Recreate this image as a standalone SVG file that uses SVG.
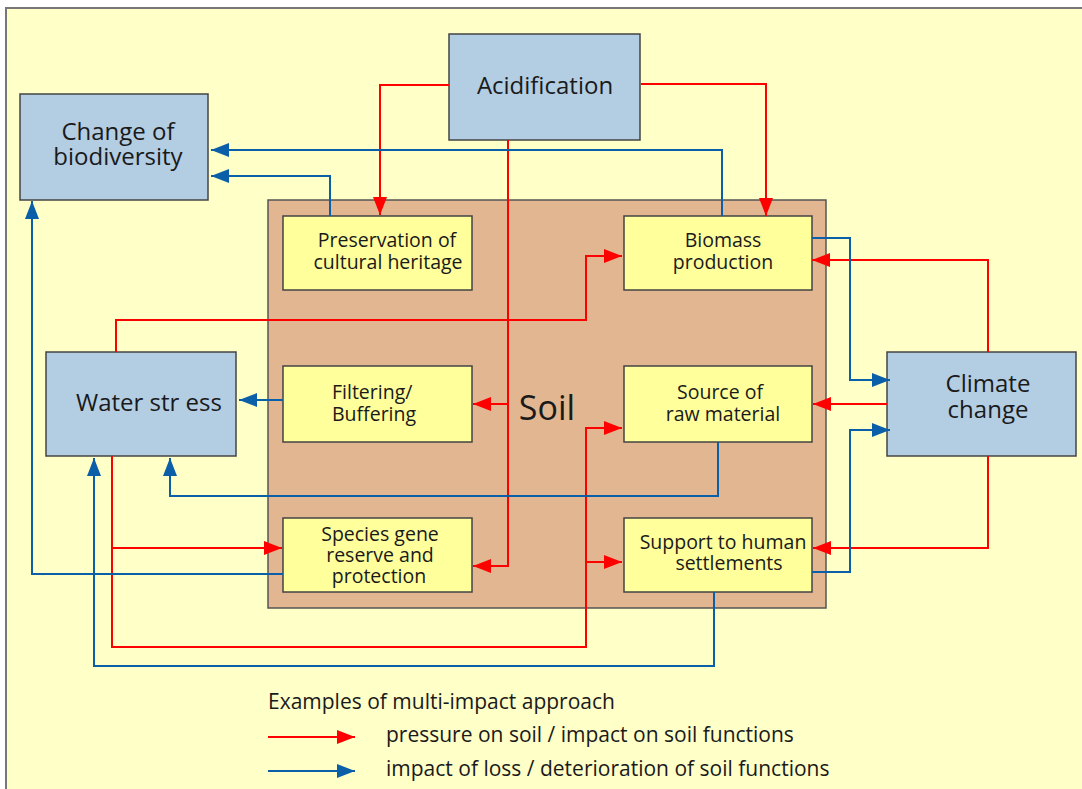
<svg xmlns="http://www.w3.org/2000/svg" width="1082" height="789" viewBox="0 0 1082 789">
<style>
text{font-family:"Open Sans","Liberation Sans",sans-serif;fill:#1a1a1a;text-anchor:middle}
.big{font-size:24px}
.mid{font-size:19.5px}
.leg{font-size:21px;text-anchor:start}
.blue{fill:#b3cde3;stroke:#444;stroke-width:1.5}
.fn{fill:#ffff9c;stroke:#444;stroke-width:1.5}
.r{fill:none;stroke:#ff0000;stroke-width:2}
.b{fill:none;stroke:#0b5fa9;stroke-width:2}
</style>
<defs>
<marker id="ar" markerUnits="userSpaceOnUse" markerWidth="20" markerHeight="16" refX="18" refY="7" orient="auto"><path d="M0,0 L18,7 L0,14 z" fill="#ff0000"/></marker>
<marker id="ab" markerUnits="userSpaceOnUse" markerWidth="20" markerHeight="16" refX="18" refY="7" orient="auto"><path d="M0,0 L18,7 L0,14 z" fill="#0b5fa9"/></marker>
</defs>
<rect x="0" y="0" width="1082" height="789" fill="#ffffff"/>
<rect x="6" y="8" width="1090" height="800" fill="#ffffc8" stroke="#777" stroke-width="2"/>
<g id="soil">
<rect x="268" y="200" width="558" height="408" fill="#e2b690" stroke="#555" stroke-width="1.5"/>
<text x="547" y="420" style="font-size:34px">Soil</text>
</g>
<g id="acidification"><rect class="blue" x="449" y="34" width="191" height="106"/><text class="big" x="545" y="94">Acidification</text></g>
<g id="biodiversity"><rect class="blue" x="20" y="94" width="188" height="106"/><text class="big" x="118" y="140">Change of</text><text class="big" x="118" y="165">biodiversity</text></g>
<g id="water"><rect class="blue" x="46" y="352" width="190" height="104"/><text class="big" x="149" y="411">Water str ess</text></g>
<g id="climate"><rect class="blue" x="887" y="352" width="189" height="104"/><text class="big" x="988" y="392">Climate</text><text class="big" x="988" y="418">change</text></g>
<g id="preservation"><rect class="fn" x="283" y="216" width="189" height="74"/><text class="mid" x="387" y="247">Preservation of</text><text class="mid" x="388" y="269">cultural heritage</text></g>
<g id="biomass"><rect class="fn" x="624" y="216" width="188" height="74"/><text class="mid" x="723" y="247">Biomass</text><text class="mid" x="723" y="269">production</text></g>
<g id="filtering"><rect class="fn" x="283" y="366" width="189" height="76"/><text class="mid" x="332" y="399" style="text-anchor:start">Filtering/</text><text class="mid" x="332" y="421" style="text-anchor:start">Buffering</text></g>
<g id="source"><rect class="fn" x="624" y="366" width="188" height="76"/><text class="mid" x="720" y="399">Source of</text><text class="mid" x="723" y="421">raw material</text></g>
<g id="species"><rect class="fn" x="283" y="518" width="189" height="74"/><text class="mid" x="380" y="541">Species gene</text><text class="mid" x="380" y="562">reserve and</text><text class="mid" x="379" y="583">protection</text></g>
<g id="support"><rect class="fn" x="624" y="518" width="188" height="74"/><text class="mid" x="723" y="549">Support to human</text><text class="mid" x="729" y="570">settlements</text></g>
<g id="connectors">
<path class="r" d="M449,85 H380 V215" marker-end="url(#ar)"/>
<path class="r" d="M641,84 H766 V216" marker-end="url(#ar)"/>
<path class="r" d="M508,140 V566 H473" marker-end="url(#ar)"/>
<path class="r" d="M508,404 H473" marker-end="url(#ar)"/>
<path class="r" d="M116,352 V320 H586 V256 H622" marker-end="url(#ar)"/>
<path class="r" d="M112,456 V647 H586 V428 H622" marker-end="url(#ar)"/>
<path class="r" d="M112,548 H282" marker-end="url(#ar)"/>
<path class="r" d="M586,562 H622" marker-end="url(#ar)"/>
<path class="r" d="M988,352 V260 H812" marker-end="url(#ar)"/>
<path class="r" d="M887,404 H813" marker-end="url(#ar)"/>
<path class="r" d="M988,456 V548 H813" marker-end="url(#ar)"/>
<path class="b" d="M722,216 V150 H211" marker-end="url(#ab)"/>
<path class="b" d="M330,216 V176 H211" marker-end="url(#ab)"/>
<path class="b" d="M812,238 H850 V380 H890" marker-end="url(#ab)"/>
<path class="b" d="M812,572 H850 V430 H890" marker-end="url(#ab)"/>
<path class="b" d="M283,400 H239" marker-end="url(#ab)"/>
<path class="b" d="M718,442 V496 H170 V458" marker-end="url(#ab)"/>
<path class="b" d="M283,574 H32 V201" marker-end="url(#ab)"/>
<path class="b" d="M714,592 V666 H94 V458" marker-end="url(#ab)"/>
</g>
<g id="legend">
<text class="leg" x="268" y="709">Examples of multi-impact approach</text>
<path class="r" d="M268,737 H355" marker-end="url(#ar)"/>
<text class="leg" x="386" y="742">pressure on soil / impact on soil functions</text>
<path class="b" d="M268,771 H355" marker-end="url(#ab)"/>
<text class="leg" x="386" y="776">impact of loss / deterioration of soil functions</text>
</g>
</svg>
